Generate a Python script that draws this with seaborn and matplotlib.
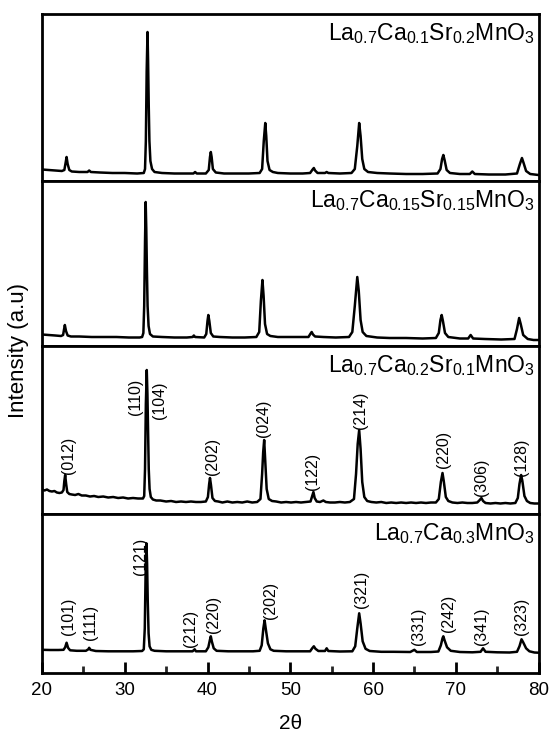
import matplotlib
matplotlib.use("Agg")
import matplotlib.pyplot as plt
from matplotlib.ticker import MultipleLocator
import pandas as pd
import seaborn as sns

# ---------------- data ----------------
titles = [
    r"La$_{0.7}$Ca$_{0.1}$Sr$_{0.2}$MnO$_3$",
    r"La$_{0.7}$Ca$_{0.15}$Sr$_{0.15}$MnO$_3$",
    r"La$_{0.7}$Ca$_{0.2}$Sr$_{0.1}$MnO$_3$",
    r"La$_{0.7}$Ca$_{0.3}$MnO$_3$",
]

# panel 1: La0.7Ca0.1Sr0.2MnO3
two_theta_a = [20.0, 20.8, 21.6, 22.4, 22.7, 22.85, 22.97, 23.1, 23.3, 23.6, 24.5, 25.5, 25.7, 25.9,
               27.0, 28.5, 30.0, 31.5, 32.3, 32.45, 32.55, 32.65, 32.75, 32.82, 32.9, 32.98, 33.1, 33.3,
               33.6, 34.5, 36.0, 37.5, 38.3, 38.5, 38.7, 39.8, 40.15, 40.3, 40.4, 40.5, 40.65, 41.0,
               42.0, 43.5, 45.0, 46.3, 46.6, 46.8, 46.98, 47.1, 47.25, 47.5, 47.9, 48.5, 50.0, 51.5,
               52.4, 52.7, 52.85, 53.0, 53.3, 54.2, 54.4, 54.6, 56.0, 57.4, 57.8, 58.1, 58.33, 58.5,
               58.7, 58.95, 59.4, 60.5, 62.0, 64.0, 66.0, 67.8, 68.15, 68.35, 68.5, 68.65, 68.9, 69.3,
               70.5, 71.7, 72.0, 72.3, 74.0, 76.0, 77.4, 77.75, 78.0, 78.2, 78.5, 79.0, 80.0]
intensity_a = [11.5, 11, 10.5, 10, 11, 18, 24, 17, 11, 9.5, 9, 9, 10.5, 9,
               8.5, 8, 8, 7.5, 8, 12, 40, 110, 149, 120, 75, 40, 20, 12,
               9, 8, 7.5, 7.5, 7.5, 9, 7.5, 7.5, 11, 24, 29, 24, 12, 8.5,
               7.5, 7.5, 7.5, 8, 12, 40, 58, 45, 20, 11, 9, 8, 7.5, 7.5,
               8, 11.5, 13, 10.5, 8, 8, 9, 8, 7.5, 8, 12, 35, 58, 45,
               22, 12, 9, 8, 7.5, 7, 7, 7.5, 12, 22, 26, 21, 11, 8,
               7, 7, 9.5, 7, 6.5, 6.5, 7.5, 17, 23, 18, 10, 7, 6]

# panel 2: La0.7Ca0.15Sr0.15MnO3
two_theta_b = [20.0, 20.8, 21.6, 22.3, 22.55, 22.65, 22.76, 22.9, 23.1, 23.5, 24.5, 26.0, 27.5, 29.0,
               30.5, 31.8, 32.1, 32.25, 32.35, 32.45, 32.53, 32.6, 32.68, 32.76, 32.88, 33.05, 33.4,
               34.5, 36.0, 37.5, 38.2, 38.35, 38.5, 39.6, 39.85, 40.0, 40.1, 40.22, 40.4, 40.7, 41.5,
               43.0, 44.5, 45.9, 46.25, 46.45, 46.64, 46.78, 46.95, 47.2, 47.6, 48.5, 50.0, 51.5,
               52.2, 52.42, 52.59, 52.75, 53.0, 54.0, 55.5, 57.1, 57.5, 57.8, 58.1, 58.28, 58.5,
               58.75, 59.2, 60.5, 62.0, 64.0, 66.0, 67.6, 67.95, 68.15, 68.3, 68.45, 68.7, 69.1,
               70.5, 71.5, 71.8, 72.1, 73.5, 75.5, 77.1, 77.4, 77.66, 77.85, 78.15, 78.7, 79.4, 80.0]
intensity_b = [11.5, 11, 10.5, 10, 11, 16, 21, 15, 10.5, 9.5, 9.5, 9, 9, 9,
               8.5, 8.5, 9, 13, 40, 105, 144, 118, 75, 40, 20, 12, 9.5,
               9, 8.5, 8.5, 9, 10.5, 9, 8.5, 12, 25, 31, 25, 13, 9.5, 9,
               8.5, 8.5, 9, 14, 45, 66, 50, 22, 12, 10, 9, 9, 9,
               9, 12, 14, 11.5, 9.5, 9, 8.5, 9, 14, 40, 69, 55, 26,
               14, 10, 8.5, 8, 8, 7.5, 8, 13, 26, 31, 25, 13, 9,
               7.5, 7.5, 11, 7.5, 7, 6.5, 7, 17, 28, 22, 11, 7, 6, 6]

# panel 3: La0.7Ca0.2Sr0.1MnO3
two_theta_c = [20.0, 20.3, 20.6, 20.9, 21.2, 21.5, 21.8, 22.1, 22.4, 22.6, 22.7, 22.8, 22.92, 23.05,
               23.3, 23.6, 24.0, 24.4, 24.8, 25.3, 25.8, 26.3, 26.8, 27.4, 28.0, 28.6, 29.2, 29.8,
               30.4, 31.0, 31.6, 32.2, 32.35, 32.45, 32.55, 32.66, 32.74, 32.82, 32.9, 33.0, 33.15,
               33.4, 33.8, 34.3, 35.0, 35.6, 36.2, 36.8, 37.4, 38.0, 38.6, 39.2, 39.8, 40.05, 40.2,
               40.3, 40.42, 40.6, 40.9, 41.3, 41.8, 42.4, 43.0, 43.6, 44.2, 44.8, 45.4, 46.0, 46.4,
               46.6, 46.73, 46.85, 46.97, 47.15, 47.4, 47.8, 48.3, 48.9, 49.5, 50.1, 50.7, 51.3,
               51.9, 52.45, 52.65, 52.8, 52.95, 53.2, 53.6, 54.0, 54.3, 54.8, 55.4, 56.0, 56.6,
               57.2, 57.7, 57.95, 58.15, 58.33, 58.5, 58.7, 58.95, 59.3, 59.8, 60.4, 61.0, 61.6,
               62.2, 62.8, 63.4, 64.0, 64.6, 65.2, 65.8, 66.4, 67.0, 67.6, 67.95, 68.2, 68.4, 68.55,
               68.8, 69.1, 69.6, 70.2, 70.8, 71.4, 72.0, 72.6, 72.9, 73.1, 73.3, 73.6, 74.2, 74.8,
               75.4, 76.0, 76.6, 77.2, 77.5, 77.7, 77.9, 78.05, 78.3, 78.6, 79.0, 79.5, 80.0]
intensity_c = [24.5, 23.5, 24.5, 23, 22.5, 23, 21.5, 21, 21.5, 24, 33, 39, 30, 22,
               20, 19.5, 19, 20, 18.5, 18.5, 17.5, 18, 17, 17.5, 16.5, 17, 16, 16.5,
               15.5, 16, 15.5, 15.5, 18, 45, 110, 144, 120, 80, 45, 25, 17,
               14.5, 13.5, 13.5, 12.5, 13, 12, 12.5, 12, 12.5, 12, 12, 12.5, 17, 30,
               36, 29, 16, 13, 12.5, 11.5, 12.5, 11.5, 12, 11.5, 12.5, 11.5, 12, 15,
               40, 62, 74, 55, 25, 15, 13, 12.5, 11.5, 12, 11.5, 12, 11.5,
               12, 12.5, 18, 22, 16, 12.5, 12, 13.5, 12, 11.5, 11.5, 12, 11.5,
               12, 15, 40, 70, 84, 65, 32, 17, 13, 12, 11.5, 12, 11,
               11.5, 11, 11.5, 11, 11.5, 11, 11.5, 11, 11.5, 11.5, 15, 32, 41, 33,
               17, 13, 11.5, 11, 11.5, 11, 11, 11.5, 14, 16, 13, 11, 10.5, 11,
               10.5, 11, 10.5, 11, 16, 30, 39, 33, 18, 13, 11, 10.5, 10.5]

# panel 4: La0.7Ca0.3MnO3
two_theta_d = [20.0, 21.0, 22.0, 22.6, 22.8, 22.97, 23.15, 23.4, 24.2, 25.3, 25.6, 25.7, 25.85, 26.5,
               28.0, 29.5, 31.0, 32.1, 32.3, 32.42, 32.52, 32.62, 32.7, 32.78, 32.88, 33.0, 33.2,
               33.6, 35.0, 36.5, 38.2, 38.45, 38.6, 39.8, 40.1, 40.28, 40.4, 40.52, 40.75, 41.1,
               42.5, 44.0, 45.5, 46.3, 46.55, 46.75, 46.9, 47.05, 47.3, 47.6, 48.0, 49.5, 51.0,
               52.4, 52.65, 52.85, 53.05, 53.4, 54.2, 54.4, 54.6, 56.0, 57.5, 57.85, 58.1, 58.33,
               58.5, 58.75, 59.1, 59.6, 61.0, 62.5, 64.5, 65.0, 65.3, 67.0, 67.9, 68.2, 68.4, 68.5,
               68.65, 68.95, 69.4, 70.5, 72.0, 73.0, 73.3, 73.6, 75.0, 76.5, 77.4, 77.7, 77.95,
               78.15, 78.5, 78.9, 79.5, 80.0]
intensity_d = [23.5, 23.3, 23.3, 23.5, 26, 30.6, 25.5, 23, 22.5, 22.5, 24, 25.5, 23.5, 22.3,
               22, 22, 22, 22.3, 24, 45, 100, 130, 110, 72, 40, 27, 23.5,
               22.5, 22, 22, 22, 24, 22, 22, 26, 33, 37, 32, 25, 22.5,
               22, 22, 22, 22.5, 28, 45, 53, 44, 30, 24, 22.5, 22, 22,
               22, 25, 27, 24.5, 22.3, 22.3, 25, 22.3, 21.8, 22, 27, 45, 60,
               50, 32, 24.5, 22.3, 21.5, 21.5, 21.3, 23.5, 21.3, 21.3, 21.8, 28, 35, 37,
               33, 26, 22.5, 21.3, 21, 21.5, 25, 21.5, 21, 20.8, 21.5, 27, 34,
               31, 25, 22, 20.8, 20.6]

# Miller-index labels (2theta position, height, text)
hkl_c_pos = [23.2, 31.26, 34.23, 40.6, 46.77, 52.7, 58.45, 68.5, 73.1, 77.9]
hkl_c_y = [59, 117, 114, 57.5, 96, 42.5, 104, 65, 36.5, 57]
hkl_c_txt = ["(012)", "(110)", "(104)", "(202)", "(024)", "(122)", "(214)", "(220)", "(306)", "(128)"]

hkl_d_pos = [23.2, 25.9, 31.85, 37.95, 40.7, 47.6, 58.67, 65.55, 69.1, 73.1, 78.0]
hkl_d_y = [57, 51, 117, 45, 59, 73, 84, 47, 60, 47.5, 57]
hkl_d_txt = ["(101)", "(111)", "(121)", "(212)", "(220)", "(202)", "(321)", "(331)", "(242)", "(341)", "(323)"]

x_ticks = [20, 30, 40, 50, 60, 70, 80]

# ---------------- styling ----------------
sns.set_theme(style="white")
plt.rcParams["font.family"] = ["Liberation Sans", "DejaVu Sans"]
plt.rcParams["mathtext.fontset"] = "custom"
plt.rcParams["mathtext.rm"] = "Liberation Sans"
plt.rcParams["mathtext.it"] = "Liberation Sans:italic"
plt.rcParams["mathtext.bf"] = "Liberation Sans:bold"

W, H = 550, 735
panel_px = [167, 165, 168, 159.3]
fig = plt.figure(figsize=(W / 100, H / 100), dpi=100)
gs = fig.add_gridspec(4, 1, height_ratios=panel_px, hspace=0,
                      left=42 / W, right=538.5 / W, top=1 - 14 / H, bottom=1 - 673.3 / H)

series = [(two_theta_a, intensity_a), (two_theta_b, intensity_b),
          (two_theta_c, intensity_c), (two_theta_d, intensity_d)]

axes = []
for i, (xs, ys) in enumerate(series):
    ax = fig.add_subplot(gs[i])
    df = pd.DataFrame({"two_theta": xs, "intensity": ys})
    sns.lineplot(data=df, x="two_theta", y="intensity", ax=ax, color="black",
                 linewidth=1.8, estimator=None, sort=False)
    ax.set_xlim(20, 80)
    ax.set_ylim(0, panel_px[i])
    ax.set_yticks([])
    ax.set_ylabel("")
    ax.set_xlabel("")
    for s in ax.spines.values():
        s.set_linewidth(2.0)
        s.set_color("black")
    ax.annotate(titles[i], xy=(1, 1), xycoords="axes fraction", xytext=(-4, -7),
                textcoords="offset pixels", ha="right", va="top", fontsize=16.5, color="black")
    if i < 3:
        ax.tick_params(axis="x", bottom=False, labelbottom=False)
    axes.append(ax)

for xs_, ys_, tx in zip(hkl_c_pos, hkl_c_y, hkl_c_txt):
    axes[2].text(xs_, ys_, tx, rotation=90, ha="center", va="center", fontsize=11.5, color="black")
for xs_, ys_, tx in zip(hkl_d_pos, hkl_d_y, hkl_d_txt):
    axes[3].text(xs_, ys_, tx, rotation=90, ha="center", va="center", fontsize=11.5, color="black")

axb = axes[3]
axb.set_xticks(x_ticks)
axb.set_xticklabels([str(t) for t in x_ticks])
axb.xaxis.set_minor_locator(MultipleLocator(5))
axb.tick_params(axis="x", which="major", direction="in", length=8, width=2, bottom=True,
                labelbottom=True, labelsize=13.5, pad=6, colors="black")
axb.tick_params(axis="x", which="minor", direction="in", length=5, width=2, bottom=True)
axb.set_xlabel("2θ", fontsize=15, color="black")
axb.xaxis.set_label_coords(0.5, -0.255)

fig.text(19 / W, 1 - 350 / H, "Intensity (a.u)", rotation=90, ha="center", va="center",
         fontsize=16, color="black")

fig.savefig("out.png", dpi=100)
